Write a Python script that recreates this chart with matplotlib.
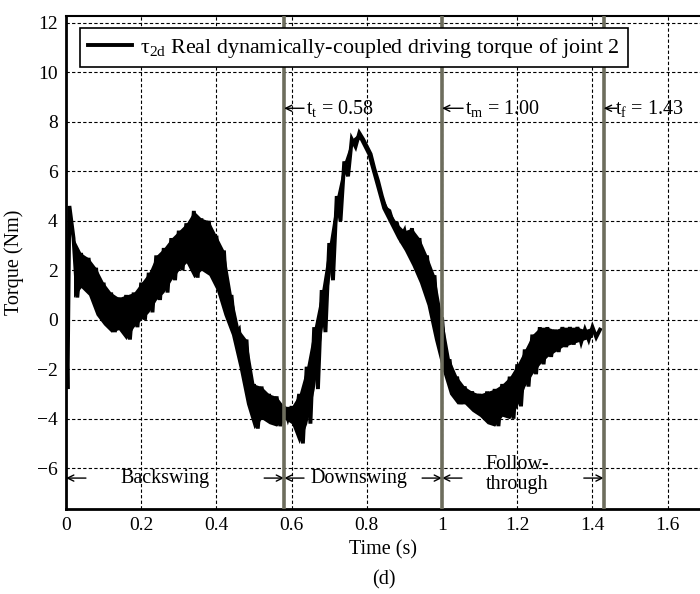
import numpy as np
import matplotlib
matplotlib.use("Agg")
import matplotlib.pyplot as plt

plt.rcParams['font.family'] = ['Liberation Serif', 'DejaVu Serif']
plt.rcParams['mathtext.fontset'] = 'custom'
plt.rcParams['mathtext.rm'] = 'Liberation Serif'
plt.rcParams['mathtext.it'] = 'Liberation Serif:italic'

# torque envelope of joint 2 (upper / lower swing of the noisy signal), every 0.02 s
t_env = [0.02, 0.04, 0.06, 0.08, 0.10, 0.12, 0.14, 0.16, 0.18, 0.20,
         0.22, 0.24, 0.26, 0.28, 0.30, 0.32, 0.34, 0.36, 0.38, 0.40,
         0.42, 0.44, 0.46, 0.48, 0.50, 0.52, 0.54, 0.56, 0.58, 0.60,
         0.62, 0.64, 0.66, 0.68, 0.70, 0.72, 0.74, 0.76, 0.78, 0.80,
         0.82, 0.84, 0.86, 0.88, 0.90, 0.92, 0.94, 0.96, 0.98, 1.00,
         1.02, 1.04, 1.06, 1.08, 1.10, 1.12, 1.14, 1.16, 1.18, 1.20,
         1.22, 1.24, 1.26, 1.28, 1.30, 1.32, 1.34, 1.36, 1.38, 1.40]
tau_hi = [3.3, 2.7, 2.5, 2.1, 1.5, 1.1, 0.9, 1.0, 1.1, 1.5,
          1.9, 2.6, 2.9, 3.3, 3.6, 3.9, 4.4, 4.1, 4.0, 3.4,
          2.8, 1.0, -0.4, -0.8, -2.6, -2.7, -3.0, -3.1, -3.5, -3.5,
          -3.0, -1.9, -0.3, 1.2, 3.1, 5.0, 6.4, 7.3, 7.55, 7.0,
          6.1, 5.0, 4.4, 3.9, 3.6, 3.7, 3.3, 2.6, 1.8, 0.1,
          -1.6, -2.3, -2.7, -2.9, -3.0, -2.9, -2.8, -2.6, -2.3, -1.8,
          -1.2, -0.6, -0.3, -0.3, -0.4, -0.3, -0.3, -0.3, -0.4, -0.3]
tau_lo = [0.9, 1.3, 1.0, 0.2, -0.2, -0.5, -0.4, -0.8, -0.3, 0.0,
          0.3, 0.8, 1.1, 1.6, 2.0, 2.3, 1.7, 2.0, 1.8, 1.2,
          0.2, -0.6, -1.9, -3.4, -4.4, -4.0, -4.2, -4.3, -4.0, -4.2,
          -5.0, -4.2, -2.8, -0.5, 1.6, 4.0, 5.8, 7.0, 7.3, 6.7,
          5.6, 4.5, 3.9, 3.3, 2.8, 2.2, 1.5, 0.6, -0.8, -2.0,
          -3.0, -3.4, -3.4, -3.7, -3.9, -4.2, -4.3, -3.9, -4.0, -3.5,
          -2.7, -2.2, -1.8, -1.5, -1.3, -1.1, -1.0, -0.9, -0.8, -0.7]
t_onset = [0.0, 0.004, 0.009]
tau_onset = [0.5, -2.8, 4.6]
t_end, tau_end = 1.42, -0.4

# phase boundaries
t_t, t_m, t_f = 0.58, 1.00, 1.43

xticks = [0, 0.2, 0.4, 0.6, 0.8, 1, 1.2, 1.4, 1.6]
xtick_labels = ['0', '0.2', '0.4', '0.6', '0.8', '1', '1.2', '1.4', '1.6']
yticks = [-6, -4, -2, 0, 2, 4, 6, 8, 10, 12]

# build the trace: upper value at t, lower value half a step later
t_line = list(t_onset)
tau_line = list(tau_onset)
for t, hi, lo in zip(t_env, tau_hi, tau_lo):
    t_line += [t, t + 0.01]
    tau_line += [hi, lo]
t_line.append(t_end)
tau_line.append(tau_end)

fig = plt.figure(figsize=(7.0, 5.94), dpi=100)
ax = fig.add_axes([66/700, 85/594, 634/700, 493/594])

ax.fill_between(t_env, tau_lo, tau_hi, color='black', lw=0, zorder=3)
ax.plot(t_line, tau_line, color='black', lw=2.8, solid_joinstyle='miter',
        label=r'τ$_{\mathrm{2d}}$ Real dynamically-coupled driving torque of joint 2',
        zorder=3)

for tv in (t_t, t_m, t_f):
    ax.axvline(tv, color='#6d6d5d', lw=2.6, zorder=4)

ax.set_xlim(0, 1.686)
ax.set_ylim(-7.65, 12.28)
ax.set_xticks(xticks)
ax.set_xticklabels(xtick_labels)
ax.set_yticks(yticks)
ax.set_yticklabels([str(v).replace('-', '\u2212') for v in yticks])
ax.tick_params(length=0, labelsize=14, pad=6)
ax.grid(True, color='black', ls=(0, (3, 2)), lw=0.8)

for side in ('left', 'bottom'):
    ax.spines[side].set_linewidth(2.0)
ax.spines['top'].set_linewidth(1.5)
ax.spines['right'].set_visible(False)

ax.set_xlabel('Time (s)', fontsize=14.5, labelpad=4)
ax.set_ylabel('Torque (Nm)', fontsize=14.5, labelpad=9)
fig.text(384/700, 14/594, '(d)', ha='center', va='center', fontsize=14.5)

arrow = dict(arrowstyle='->,head_length=0.45,head_width=0.22', lw=1.0,
             color='black', shrinkA=0, shrinkB=0)

# phase marker labels: arrow pointing at the line, then the time
ym = 8.55
for tv, sub, alen, gap in ((t_t, 't', 0.053, 0.018), (t_m, 'm', 0.056, 0.018),
                           (t_f, 'f', 0.035, 0.006)):
    ax.annotate('', xy=(tv, ym), xytext=(tv + alen, ym), arrowprops=arrow, zorder=5)
    ax.text(tv + alen + gap - 0.012, ym, 't$_\\mathrm{%s}$ = %.2f' % (sub, tv),
            fontsize=14.5, va='center', ha='left', zorder=5)

# phase spans along the bottom
ya = -6.4
span = 0.053
ax.annotate('', xy=(0.0, ya), xytext=(span, ya), arrowprops=arrow)
ax.text(0.263, ya, 'Backswing', fontsize=14.5, va='center', ha='center')
ax.annotate('', xy=(t_t, ya), xytext=(t_t - span, ya), arrowprops=arrow)
ax.annotate('', xy=(t_t, ya), xytext=(t_t + span, ya), arrowprops=arrow)
ax.text(0.78, ya, 'Downswing', fontsize=14.5, va='center', ha='center')
ax.annotate('', xy=(t_m, ya), xytext=(t_m - span, ya), arrowprops=arrow)
ax.annotate('', xy=(t_m, ya), xytext=(t_m + span, ya), arrowprops=arrow)
ax.text(1.2, -6.25, 'Follow-\nthrough', fontsize=14.5, va='center', ha='center',
        linespacing=1.05)
ax.annotate('', xy=(t_f, ya), xytext=(t_f - span, ya), arrowprops=arrow)

leg = ax.legend(loc='upper left', bbox_to_anchor=(0.022, 0.976), borderaxespad=0,
                fancybox=False, framealpha=1, edgecolor='black', fontsize=15.8,
                handlelength=2.0, handletextpad=0.4, borderpad=0.35)
leg.get_frame().set_linewidth(1.2)
leg.set_zorder(6)

fig.savefig('out.png', dpi=100)
